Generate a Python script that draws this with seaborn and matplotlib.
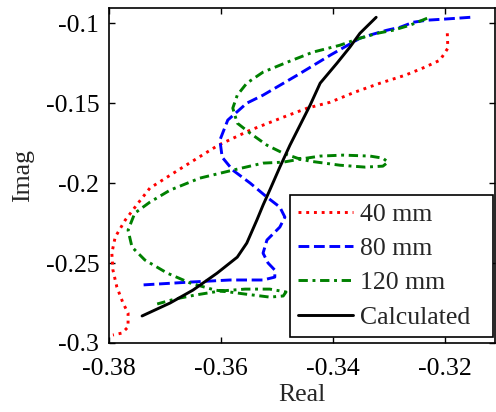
import matplotlib
matplotlib.use('Agg')
import matplotlib.pyplot as plt
import numpy as np
import pandas as pd
import seaborn as sns

# 40 mm curve (real, imag)
real_40 = [-0.3196, -0.3195, -0.3209, -0.3236, -0.3271, -0.3316, -0.3361, -0.3405,
           -0.3446, -0.3489, -0.3548, -0.3605, -0.3668, -0.3727, -0.3748, -0.3771,
           -0.3789, -0.3795, -0.3793, -0.3786, -0.3775, -0.3766, -0.3766, -0.3777, -0.3793]
imag_40 = [-0.1063, -0.1156, -0.1231, -0.1275, -0.1325, -0.1375, -0.1431, -0.1494,
           -0.1531, -0.1588, -0.1669, -0.1763, -0.1900, -0.2031, -0.2125, -0.2231,
           -0.2338, -0.2438, -0.2544, -0.2650, -0.2750, -0.2813, -0.2900, -0.2938, -0.2950]

# 80 mm curve
real_80 = [-0.3155, -0.3179, -0.3204, -0.3232, -0.3257, -0.3280, -0.3304, -0.3329,
           -0.3352, -0.3405, -0.3464, -0.3525, -0.3554, -0.3588, -0.3602, -0.3598,
           -0.3579, -0.3548, -0.3518, -0.3495, -0.3486, -0.3495, -0.3518, -0.3525,
           -0.3516, -0.3504, -0.3504, -0.3525, -0.3584, -0.3655, -0.3745]
imag_80 = [-0.0963, -0.0969, -0.0975, -0.0981, -0.0994, -0.1025, -0.1044, -0.1069,
           -0.1094, -0.1200, -0.1325, -0.1450, -0.1500, -0.1606, -0.1731, -0.1838,
           -0.1919, -0.2000, -0.2088, -0.2150, -0.2213, -0.2275, -0.2356, -0.2438,
           -0.2500, -0.2544, -0.2588, -0.2606, -0.2606, -0.2619, -0.2638]

# 120 mm curve
real_120 = [-0.3232, -0.3263, -0.3293, -0.3321, -0.3352, -0.3388, -0.3436, -0.3482,
            -0.3525, -0.3554, -0.3571, -0.3579, -0.3571, -0.3548, -0.3518, -0.3489,
            -0.3464, -0.3441, -0.3388, -0.3343, -0.3311, -0.3302, -0.3311, -0.3334,
            -0.3382, -0.3423, -0.3459, -0.3489, -0.3525, -0.3579, -0.3638, -0.3691,
            -0.3727, -0.3754, -0.3766, -0.3759, -0.3736, -0.3696, -0.3655, -0.3611,
            -0.3557, -0.3513, -0.3489, -0.3484, -0.3513, -0.3557, -0.3602, -0.3646,
            -0.3682, -0.3714]
imag_120 = [-0.0969, -0.1013, -0.1044, -0.1063, -0.1094, -0.1138, -0.1181, -0.1244,
            -0.1306, -0.1375, -0.1450, -0.1531, -0.1625, -0.1688, -0.1763, -0.1813,
            -0.1844, -0.1863, -0.1888, -0.1900, -0.1894, -0.1869, -0.1844, -0.1831,
            -0.1825, -0.1831, -0.1850, -0.1869, -0.1875, -0.1919, -0.1969, -0.2044,
            -0.2119, -0.2188, -0.2294, -0.2400, -0.2481, -0.2563, -0.2625, -0.2669,
            -0.2694, -0.2713, -0.2706, -0.2681, -0.2663, -0.2663, -0.2675, -0.2700,
            -0.2725, -0.2756]

# calculated curve
real_calc = [-0.3323, -0.3352, -0.3370, -0.3393, -0.3423, -0.3441, -0.3459, -0.3477,
             -0.3495, -0.3513, -0.3525, -0.3536, -0.3554, -0.3571, -0.3607, -0.3650,
             -0.3691, -0.3741]
imag_calc = [-0.0963, -0.1063, -0.1150, -0.1250, -0.1375, -0.1513, -0.1638, -0.1763,
             -0.1900, -0.2044, -0.2138, -0.2231, -0.2375, -0.2463, -0.2563, -0.2669,
             -0.2750, -0.2831]

x_ticks = [-0.38, -0.36, -0.34, -0.32]
y_ticks = [-0.3, -0.25, -0.2, -0.15, -0.1]

sns.set_theme(style='ticks')
plt.rcParams['font.family'] = ['Liberation Serif', 'DejaVu Serif']
plt.rcParams['axes.unicode_minus'] = False

fig = plt.figure(figsize=(4.96, 4.12), dpi=100)
ax = fig.add_axes([0.2198, 0.1675, 0.778, 0.8138])

series = [
    (real_40, imag_40, '40 mm', '#ff0000', (1, 1.65)),
    (real_80, imag_80, '80 mm', '#0000ff', (3.7, 1.6)),
    (real_120, imag_120, '120 mm', '#008000', (3.2, 1.6, 1, 1.6)),
    (real_calc, imag_calc, 'Calculated', '#000000', None),
]
for re, im, name, col, dash in series:
    df = pd.DataFrame({'Real': re, 'Imag': im})
    sns.lineplot(data=df, x='Real', y='Imag', sort=False, estimator=None,
                 color=col, lw=2.1, label=name, ax=ax)
    if dash is not None:
        ax.lines[-1].set_dashes(dash)

ax.set_xlim(-0.38, -0.3111)
ax.set_ylim(-0.3, -0.0903)
ax.set_xticks(x_ticks)
ax.set_xticklabels(['%g' % v for v in x_ticks])
ax.set_yticks(y_ticks)
ax.set_yticklabels(['%g' % v for v in y_ticks])
ax.tick_params(direction='in', length=4, width=1, top=True, right=True,
               labelsize=18.5, colors='black')
ax.tick_params(axis='x', pad=10.5)
ax.tick_params(axis='y', pad=7)
for s in ax.spines.values():
    s.set_visible(True)
    s.set_linewidth(1.2)
    s.set_color('black')
ax.set_xlabel('Real', fontsize=18.5, labelpad=3.5)
ax.set_ylabel('Imag', fontsize=18.5, labelpad=8.5)

leg = ax.legend(loc='lower right', bbox_to_anchor=(0.469, 0.0179, 0.526, 0.4),
                mode='expand', fontsize=18.5,
                frameon=True, fancybox=False, framealpha=1, edgecolor='black',
                handlelength=2.14, handletextpad=0.25, labelspacing=0.43,
                borderpad=0.33, borderaxespad=0)
leg.get_frame().set_linewidth(1.2)

fig.savefig('out.png', dpi=100)
